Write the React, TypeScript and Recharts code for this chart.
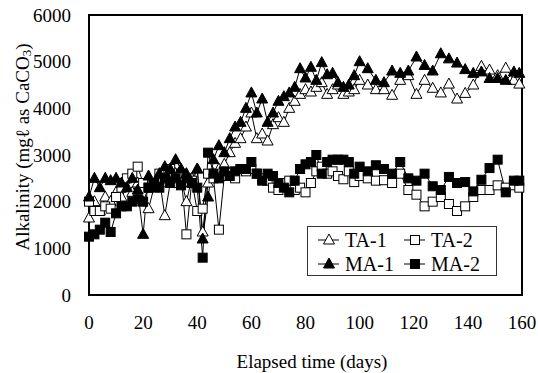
import React from 'react';
import { LineChart, Line, XAxis, YAxis, ReferenceArea, Legend, Label } from 'recharts';

const FONT = 'Liberation Serif, Times New Roman, serif';

const days = [
  0, 2, 4, 6, 8, 10, 12, 14, 16, 18,
  20, 22, 24, 26, 28, 30, 32, 34, 36, 38,
  40, 42, 44, 46, 48, 50, 52, 54, 56, 58,
  60, 62, 64, 66, 68, 70, 72, 74, 76, 78,
  80, 82, 84, 86, 88, 90, 92, 94, 96, 98,
  100,
  103, 106, 109, 112, 115, 118, 121, 124, 127, 130,
  133, 136, 139, 142, 145, 148, 151, 154, 157,
  159,
];

const ta1 = [
  1650, 2000, 1800, 2100, 2000, 2200, 2100, 2300, 2200, 2400,
  2000, 1850, 2300, 2500, 1700, 2400, 2600, 2500, 2000, 2500,
  2700, 1350, 2400, 2600, 2700, 2800, 3050, 3250, 3350, 3600,
  3900, 3350, 3450, 3300, 3650, 3800, 3700, 4000, 4150, 4300,
  4400, 4350, 4450, 4550, 4300, 4400, 4500, 4300, 4350, 4400,
  4600,
  4500, 4400, 4400, 4280, 4600, 4700, 4300, 4600, 4430, 4330,
  4520, 4200, 4320, 4500, 4900, 4820, 4700, 4860, 4600,
  4520,
];

const ta2 = [
  2000, 1800, 1800, 1900, 1850, 2100, 2300, 2500, 2600, 2750,
  2400, 2300, 2400, 2600, 2500, 2700, 2400, 2600, 1300, 2450,
  1800, 1850, 2600, 2500, 1400, 2550, 2550, 2500, 2700, 2650,
  2700, 2600, 2500, 2450, 2300, 2250, 2400, 2450, 2250, 2300,
  2200, 2400, 2650, 2750, 2600, 2650, 2550, 2480, 2650, 2420,
  2550,
  2500, 2450, 2460, 2400, 2600, 2250, 2150, 1900, 2000, 2100,
  1950, 1800, 1900, 2100, 2250, 2250, 2350, 2300, 2350,
  2300,
];

const ma1 = [
  2100, 2500, 2300, 2500, 2450, 2500, 2400, 2300, 2500, 2250,
  1300, 2550, 2300, 2600, 2750, 2700, 2900, 2700, 2600, 2400,
  2700, 1200, 2100, 2900, 3200, 3050, 3350, 3600, 3700, 4000,
  4330, 3900, 4200, 3700, 3900, 4150, 4250, 4330, 4450, 4850,
  4650, 4880, 4600, 4980, 4720, 4750, 4550, 4450, 4500, 4700,
  5000,
  4850, 4600, 4550, 4800, 4750, 4800, 5100, 4920, 4800, 5170,
  5060, 4970, 4830, 4750, 4780, 4640, 4640, 4600, 4780,
  4750,
];

const ma2 = [
  1250, 1300, 1400, 1550, 1350, 1750, 1900, 1900, 2000, 2050,
  2000, 2300, 2400, 2300, 2500, 2400, 2500, 2350, 2500, 2400,
  2300, 800, 3050, 2600, 2500, 2650, 2550, 2650, 2700, 2700,
  2850, 2600, 2450, 2600, 2550, 2400, 2300, 2200, 2450, 2700,
  2800, 2850, 3000, 2600, 2850, 2900, 2900, 2900, 2850, 2600,
  2750,
  2650, 2780, 2700, 2600, 2850, 2500, 2450, 2600, 2330, 2250,
  2530, 2400, 2420, 2220, 2470, 2720, 2900, 2200, 2450,
  2450,
];

const xTicks = [0, 20, 40, 60, 80, 100, 120, 140, 160];
const yTicks = [0, 1000, 2000, 3000, 4000, 5000, 6000];

const seriesInfo = [
  { key: 'ta1', name: 'TA-1', shape: 'tri', filled: false },
  { key: 'ta2', name: 'TA-2', shape: 'sq', filled: false },
  { key: 'ma1', name: 'MA-1', shape: 'tri', filled: true },
  { key: 'ma2', name: 'MA-2', shape: 'sq', filled: true },
];

const data = days.map((d, i) => ({ day: d, ta1: ta1[i], ta2: ta2[i], ma1: ma1[i], ma2: ma2[i] }));

function Marker({ cx, cy, shape, filled }: any) {
  const fill = filled ? '#000' : '#fff';
  if (shape === 'tri') {
    return (
      <path
        d={`M${cx},${cy - 6}L${cx + 5.5},${cy + 4}L${cx - 5.5},${cy + 4}Z`}
        fill={fill}
        stroke="#000"
        strokeWidth={1}
      />
    );
  }
  return <rect x={cx - 4.5} y={cy - 4.5} width={9} height={9} fill={fill} stroke="#000" strokeWidth={1} />;
}

const makeDot = (shape: string, filled: boolean) => (props: any) => {
  const { cx, cy, index } = props;
  if (cx == null || cy == null) return <g key={index} />;
  return (
    <g key={index}>
      <Marker cx={cx} cy={cy} shape={shape} filled={filled} />
    </g>
  );
};

const XTick = (props: any) => {
  const { x, y, payload } = props;
  return (
    <text x={x} y={y + 32} textAnchor="middle" fontSize={19} fontFamily={FONT} fill="#000">
      {payload.value}
    </text>
  );
};

const YTick = (props: any) => {
  const { x, y, payload } = props;
  return (
    <text x={x - 16} y={y + 6.5} textAnchor="end" fontSize={19} fontFamily={FONT} fill="#000">
      {payload.value}
    </text>
  );
};

const LegendBox = () => {
  const pos = [
    { x: 0, y: 0 },
    { x: 86, y: 0 },
    { x: 0, y: 24 },
    { x: 86, y: 24 },
  ];
  return (
    <svg width={190} height={50} style={{ display: 'block' }}>
      <rect x={0.5} y={0.5} width={189} height={49} fill="#fff" stroke="#333" strokeWidth={1} />
      {seriesInfo.map((s, i) => {
        const p = pos[i];
        const cy = p.y + 14;
        const cx = p.x + 22;
        return (
          <g key={s.key}>
            <line x1={p.x + 11} x2={p.x + 32} y1={cy} y2={cy} stroke="#000" strokeWidth={1} />
            <Marker cx={cx} cy={cy} shape={s.shape} filled={s.filled} />
            <text x={p.x + 38} y={cy + 6.5} fontSize={20} fontFamily={FONT} fill="#000">
              {s.name}
            </text>
          </g>
        );
      })}
    </svg>
  );
};

const YLabel = () => {
  const x = 22;
  const y = 147;
  return (
    <text
      x={x}
      y={y}
      transform={`rotate(-90, ${x}, ${y})`}
      textAnchor="middle"
      dominantBaseline="central"
      fontSize={19}
      fontFamily={FONT}
      fill="#000"
    >
      Alkalinity (mgℓ as CaCO<tspan fontSize={13} dy={4}>3</tspan>
      <tspan dy={-4}>)</tspan>
    </text>
  );
};

const XLabel = () => (
  <text x={312} y={368} textAnchor="middle" fontSize={19} fontFamily={FONT} fill="#000">
    Elapsed time (days)
  </text>
);

export default function App() {
  return (
    <div style={{ position: 'absolute', left: 0, top: 0 }}>
      <LineChart width={538} height={373} data={data} margin={{ top: 15, right: 16, bottom: 18, left: 0 }}>
        <XAxis
          dataKey="day"
          type="number"
          domain={[0, 160]}
          ticks={xTicks}
          tickLine={false}
          axisLine={false}
          tickSize={0}
          height={60}
          interval={0}
          tick={<XTick />}
        >
          <Label content={XLabel} />
        </XAxis>
        <YAxis
          type="number"
          domain={[0, 6000]}
          ticks={yTicks}
          tickLine={false}
          axisLine={false}
          tickSize={0}
          width={89}
          interval={0}
          tick={<YTick />}
        >
          <Label content={YLabel} />
        </YAxis>
        <ReferenceArea x1={0} x2={160} y1={0} y2={6000} fill="none" stroke="#000" strokeWidth={2} />
        {seriesInfo.map((s) => (
          <Line
            key={s.key}
            dataKey={s.key}
            name={s.name}
            type="linear"
            stroke="#000"
            strokeWidth={1}
            dot={makeDot(s.shape, s.filled)}
            activeDot={false}
            isAnimationActive={false}
          />
        ))}
        <Legend
          layout="horizontal"
          verticalAlign="middle"
          align="center"
          content={LegendBox}
          wrapperStyle={{ position: 'absolute', left: 307, top: 226, width: 190, height: 50 }}
        />
      </LineChart>
    </div>
  );
}
